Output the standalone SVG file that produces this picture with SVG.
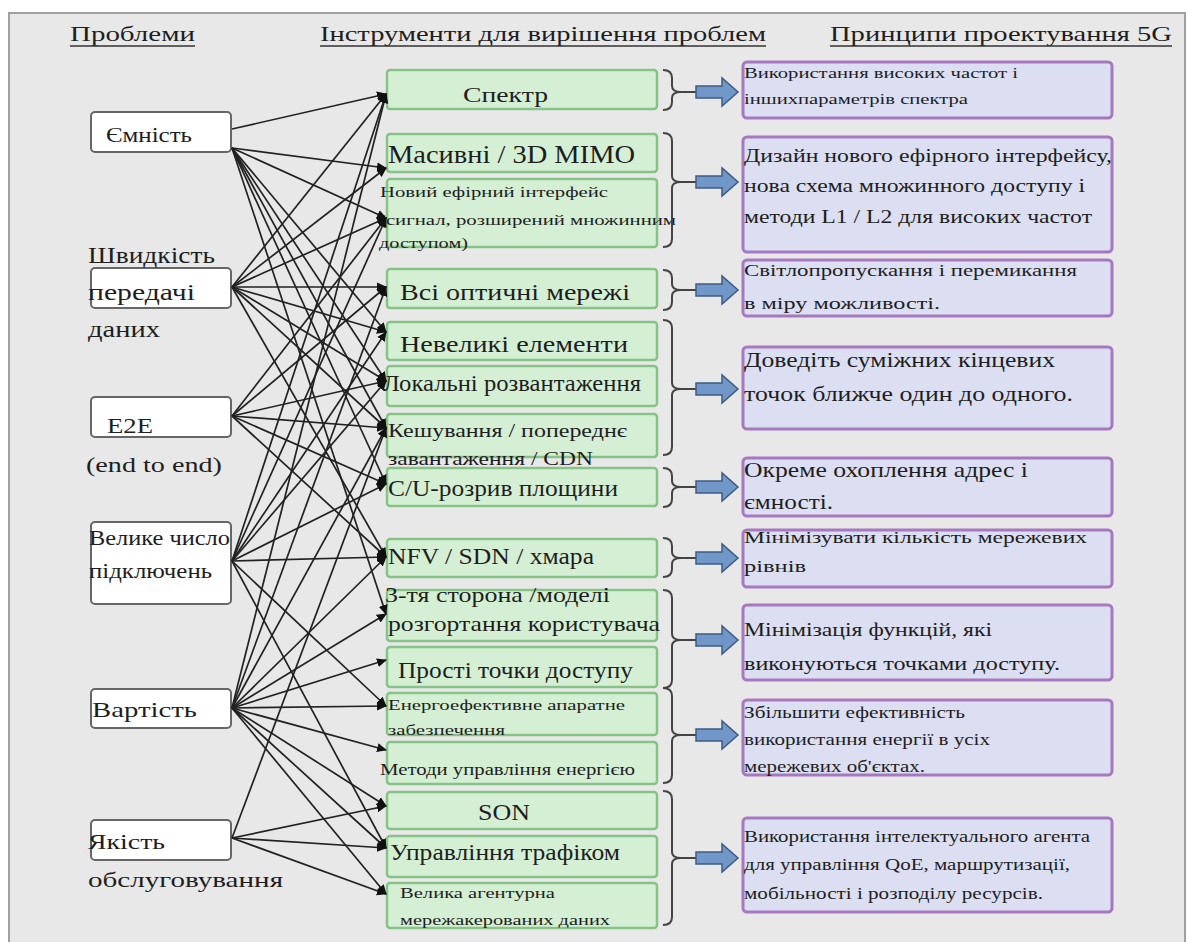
<svg xmlns="http://www.w3.org/2000/svg" width="1189" height="942" viewBox="0 0 1189 942">
<defs>
<style>
text{font-family:"Liberation Serif","Times New Roman",serif;fill:#1e1e1e}
.hd{font-size:22px}
.ul{stroke:#333;stroke-width:1.5}
.lb{fill:#fff;stroke:#666;stroke-width:2}
.gb{fill:#d5efd5;stroke:#86c386;stroke-width:2.5}
.pb{fill:#dcdff2;stroke:#a678c0;stroke-width:3}
.br{fill:none;stroke:#444;stroke-width:2}
.ba{fill:#7097c8;stroke:#3e5b84;stroke-width:1.5}
.cn line{stroke:#222;stroke-width:1.7;marker-end:url(#ah)}
</style>
<marker id="ah" markerUnits="userSpaceOnUse" markerWidth="10" markerHeight="10" refX="9" refY="5" orient="auto">
<path d="M0,0.5 L10,5 L0,9.5 z" fill="#111"/>
</marker>
</defs>
<rect x="0" y="0" width="1189" height="942" fill="#fff"/>
<rect x="9" y="13" width="1176" height="932" fill="#e8e8e8" stroke="#a0a0a0" stroke-width="2"/>

<g id="headers">
<text class="hd" x="70" y="41" textLength="125" lengthAdjust="spacingAndGlyphs">Проблеми</text>
<line class="ul" x1="70" y1="46" x2="195" y2="46"/>
<text class="hd" x="320" y="41" textLength="446" lengthAdjust="spacingAndGlyphs">Інструменти для вирішення проблем</text>
<line class="ul" x1="320" y1="46" x2="766" y2="46"/>
<text class="hd" x="830" y="41" textLength="342" lengthAdjust="spacingAndGlyphs">Принципи проектування 5G</text>
<line class="ul" x1="830" y1="46" x2="1172" y2="46"/>
</g>

<g id="p-capacity"><rect class="lb" x="91" y="112" width="140" height="40" rx="4"/><text x="106" y="142" font-size="20" textLength="86" lengthAdjust="spacingAndGlyphs">Ємність</text></g>
<g id="p-rate"><rect class="lb" x="91" y="268" width="140" height="40" rx="4"/>
<text x="88" y="263" font-size="24" textLength="127" lengthAdjust="spacingAndGlyphs">Швидкість</text>
<text x="88" y="300" font-size="24" textLength="107" lengthAdjust="spacingAndGlyphs">передачі</text>
<text x="88" y="337" font-size="24" textLength="72" lengthAdjust="spacingAndGlyphs">даних</text></g>
<g id="p-e2e"><rect class="lb" x="91" y="397" width="140" height="40" rx="4"/>
<text x="107" y="433" font-size="22" textLength="46" lengthAdjust="spacingAndGlyphs">E2E</text>
<text x="86" y="472" font-size="22" textLength="136" lengthAdjust="spacingAndGlyphs">(end to end)</text></g>
<g id="p-massive"><rect class="lb" x="91" y="522" width="140" height="82" rx="4"/>
<text x="89" y="545" font-size="20" textLength="141" lengthAdjust="spacingAndGlyphs">Велике число</text>
<text x="89" y="578" font-size="20" textLength="123" lengthAdjust="spacingAndGlyphs">підключень</text></g>
<g id="p-cost"><rect class="lb" x="91" y="689" width="140" height="39" rx="4"/>
<text x="92" y="717" font-size="22" textLength="105" lengthAdjust="spacingAndGlyphs">Вартість</text></g>
<g id="p-qoe"><rect class="lb" x="91" y="820" width="140" height="40" rx="4"/>
<text x="88" y="849" font-size="22" textLength="77" lengthAdjust="spacingAndGlyphs">Якість</text>
<text x="88" y="887" font-size="22" textLength="195" lengthAdjust="spacingAndGlyphs">обслуговування</text></g>

<g id="t-spectrum"><rect class="gb" x="387" y="70" width="270" height="39" rx="3"/><text x="463" y="102" font-size="22" textLength="85" lengthAdjust="spacingAndGlyphs">Спектр</text></g>
<g id="t-mimo"><rect class="gb" x="387" y="134" width="270" height="38" rx="3"/><text x="388" y="163" font-size="26" textLength="247" lengthAdjust="spacingAndGlyphs">Масивні / 3D MIMO</text></g>
<g id="t-air"><rect class="gb" x="387" y="179" width="270" height="68" rx="3"/>
<text x="380" y="197" font-size="14" textLength="228" lengthAdjust="spacingAndGlyphs">Новий ефірний інтерфейс</text>
<text x="379" y="225" font-size="15" textLength="297" lengthAdjust="spacingAndGlyphs">(сигнал, розширений множинним</text>
<text x="379" y="248" font-size="14" textLength="89" lengthAdjust="spacingAndGlyphs">доступом)</text></g>
<g id="t-optical"><rect class="gb" x="387" y="269" width="270" height="39" rx="3"/><text x="400" y="300" font-size="24" textLength="230" lengthAdjust="spacingAndGlyphs">Всі оптичні мережі</text></g>
<g id="t-small"><rect class="gb" x="387" y="322" width="270" height="38" rx="3"/><text x="400" y="352" font-size="24" textLength="228" lengthAdjust="spacingAndGlyphs">Невеликі елементи</text></g>
<g id="t-offload"><rect class="gb" x="387" y="366" width="270" height="40" rx="3"/><text x="383" y="391" font-size="24" textLength="258" lengthAdjust="spacingAndGlyphs">Локальні розвантаження</text></g>
<g id="t-cache"><rect class="gb" x="387" y="414" width="270" height="43" rx="3"/>
<text x="388" y="437" font-size="19" textLength="239" lengthAdjust="spacingAndGlyphs">Кешування / попереднє</text>
<text x="388" y="465" font-size="19" textLength="205" lengthAdjust="spacingAndGlyphs">завантаження / CDN</text></g>
<g id="t-cu"><rect class="gb" x="387" y="468" width="270" height="38" rx="3"/><text x="388" y="496" font-size="24" textLength="230" lengthAdjust="spacingAndGlyphs">C/U-розрив площини</text></g>
<g id="t-nfv"><rect class="gb" x="387" y="539" width="270" height="38" rx="3"/><text x="388" y="564" font-size="24" textLength="206" lengthAdjust="spacingAndGlyphs">NFV / SDN / хмара</text></g>
<g id="t-3rd"><rect class="gb" x="387" y="590" width="270" height="51" rx="3"/>
<text x="385" y="602" font-size="22" textLength="225" lengthAdjust="spacingAndGlyphs">3-тя сторона /моделі</text>
<text x="388" y="631" font-size="22" textLength="272" lengthAdjust="spacingAndGlyphs">розгортання користувача</text></g>
<g id="t-simple"><rect class="gb" x="387" y="647" width="270" height="40" rx="3"/><text x="398" y="678" font-size="24" textLength="235" lengthAdjust="spacingAndGlyphs">Прості точки доступу</text></g>
<g id="t-eehw"><rect class="gb" x="387" y="693" width="270" height="42" rx="3"/>
<text x="388" y="710" font-size="15" textLength="237" lengthAdjust="spacingAndGlyphs">Енергоефективне апаратне</text>
<text x="388" y="735" font-size="15" textLength="117" lengthAdjust="spacingAndGlyphs">забезпечення</text></g>
<g id="t-energy"><rect class="gb" x="387" y="742" width="270" height="42" rx="3"/><text x="380" y="775" font-size="16" textLength="255" lengthAdjust="spacingAndGlyphs">Методи управління енергією</text></g>
<g id="t-son"><rect class="gb" x="387" y="792" width="270" height="37" rx="3"/><text x="478" y="820" font-size="24" textLength="52" lengthAdjust="spacingAndGlyphs">SON</text></g>
<g id="t-traffic"><rect class="gb" x="387" y="836" width="270" height="41" rx="3"/><text x="390" y="860" font-size="24" textLength="230" lengthAdjust="spacingAndGlyphs">Управління трафіком</text></g>
<g id="t-bigdata"><rect class="gb" x="387" y="883" width="270" height="45" rx="3"/>
<text x="400" y="898" font-size="15" textLength="155" lengthAdjust="spacingAndGlyphs">Велика агентурна</text>
<text x="400" y="925" font-size="15" textLength="210" lengthAdjust="spacingAndGlyphs">мережакерованих даних</text></g>

<g id="braces">
<path class="br" d="M663,70 Q672,70 672,78 L672,86 Q672,92 681,92 Q672,92 672,98 L672,102 Q672,110 663,110"/>
<path class="br" d="M663,133 Q672,133 672,141 L672,176 Q672,182 681,182 Q672,182 672,188 L672,239 Q672,247 663,247"/>
<path class="br" d="M663,270 Q672,270 672,278 L672,284 Q672,290 681,290 Q672,290 672,296 L672,302 Q672,310 663,310"/>
<path class="br" d="M663,320 Q672,320 672,328 L672,383 Q672,389 681,389 Q672,389 672,395 L672,447 Q672,455 663,455"/>
<path class="br" d="M663,468 Q672,468 672,476 L672,481 Q672,487 681,487 Q672,487 672,493 L672,499 Q672,507 663,507"/>
<path class="br" d="M663,538 Q672,538 672,546 L672,552 Q672,558 681,558 Q672,558 672,564 L672,569 Q672,577 663,577"/>
<path class="br" d="M663,590 Q672,590 672,598 L672,634 Q672,640 681,640 Q672,640 672,646 L672,680 Q672,688 663,688"/>
<path class="br" d="M663,688 Q672,688 672,696 L672,729 Q672,735 681,735 Q672,735 672,741 L672,775 Q672,783 663,783"/>
<path class="br" d="M663,791 Q672,791 672,799 L672,852 Q672,858 681,858 Q672,858 672,864 L672,917 Q672,925 663,925"/>
<g stroke="#444" stroke-width="2">
<line x1="681" y1="92" x2="696" y2="92"/><line x1="681" y1="182" x2="696" y2="182"/><line x1="681" y1="290" x2="696" y2="290"/>
<line x1="681" y1="389" x2="696" y2="389"/><line x1="681" y1="487" x2="696" y2="487"/><line x1="681" y1="558" x2="696" y2="558"/>
<line x1="681" y1="640" x2="696" y2="640"/><line x1="681" y1="735" x2="696" y2="735"/><line x1="681" y1="858" x2="696" y2="858"/>
</g>
</g>

<g id="block-arrows">
<path class="ba" d="M696,86 L722,86 L722,78 L738,92 L722,106 L722,98 L696,98 Z"/>
<path class="ba" d="M696,176 L722,176 L722,168 L738,182 L722,196 L722,188 L696,188 Z"/>
<path class="ba" d="M696,284 L722,284 L722,276 L738,290 L722,304 L722,296 L696,296 Z"/>
<path class="ba" d="M696,383 L722,383 L722,375 L738,389 L722,403 L722,395 L696,395 Z"/>
<path class="ba" d="M696,481 L722,481 L722,473 L738,487 L722,501 L722,493 L696,493 Z"/>
<path class="ba" d="M696,552 L722,552 L722,544 L738,558 L722,572 L722,564 L696,564 Z"/>
<path class="ba" d="M696,634 L722,634 L722,626 L738,640 L722,654 L722,646 L696,646 Z"/>
<path class="ba" d="M696,729 L722,729 L722,721 L738,735 L722,749 L722,741 L696,741 Z"/>
<path class="ba" d="M696,852 L722,852 L722,844 L738,858 L722,872 L722,864 L696,864 Z"/>
</g>

<g id="d-spectrum"><rect class="pb" x="743" y="62" width="369" height="56" rx="4"/>
<text x="744" y="78" font-size="15" textLength="274" lengthAdjust="spacingAndGlyphs">Використання високих частот і</text>
<text x="744" y="104" font-size="15" textLength="224" lengthAdjust="spacingAndGlyphs">іншихпараметрів спектра</text></g>
<g id="d-air"><rect class="pb" x="743" y="137" width="369" height="115" rx="4"/>
<text x="744" y="162" font-size="18" textLength="368" lengthAdjust="spacingAndGlyphs">Дизайн нового ефірного інтерфейсу,</text>
<text x="744" y="192" font-size="18" textLength="341" lengthAdjust="spacingAndGlyphs">нова схема множинного доступу і</text>
<text x="744" y="223" font-size="18" textLength="348" lengthAdjust="spacingAndGlyphs">методи L1 / L2 для високих частот</text></g>
<g id="d-optical"><rect class="pb" x="743" y="260" width="369" height="56" rx="4"/>
<text x="744" y="276" font-size="17" textLength="333" lengthAdjust="spacingAndGlyphs">Світлопропускання і перемикання</text>
<text x="744" y="309" font-size="17" textLength="196" lengthAdjust="spacingAndGlyphs">в міру можливості.</text></g>
<g id="d-closer"><rect class="pb" x="743" y="347" width="369" height="82" rx="4"/>
<text x="744" y="367" font-size="21" textLength="311" lengthAdjust="spacingAndGlyphs">Доведіть суміжних  кінцевих</text>
<text x="744" y="401" font-size="21" textLength="329" lengthAdjust="spacingAndGlyphs">точок ближче  один  до одного.</text></g>
<g id="d-address"><rect class="pb" x="743" y="458" width="369" height="58" rx="4"/>
<text x="744" y="477" font-size="21" textLength="284" lengthAdjust="spacingAndGlyphs">Окреме охоплення  адрес  і</text>
<text x="744" y="509" font-size="21" textLength="89" lengthAdjust="spacingAndGlyphs">ємності.</text></g>
<g id="d-layers"><rect class="pb" x="743" y="530" width="369" height="57" rx="4"/>
<text x="744" y="543" font-size="17" textLength="343" lengthAdjust="spacingAndGlyphs">Мінімізувати кількість мережевих</text>
<text x="744" y="572" font-size="17" textLength="62" lengthAdjust="spacingAndGlyphs">рівнів</text></g>
<g id="d-ap"><rect class="pb" x="743" y="605" width="369" height="75" rx="4"/>
<text x="744" y="636" font-size="18" textLength="248" lengthAdjust="spacingAndGlyphs">Мінімізація функцій, які</text>
<text x="744" y="670" font-size="18" textLength="316" lengthAdjust="spacingAndGlyphs">виконуються точками доступу.</text></g>
<g id="d-energy"><rect class="pb" x="743" y="700" width="369" height="75" rx="4"/>
<text x="744" y="718" font-size="16" textLength="221" lengthAdjust="spacingAndGlyphs">Збільшити ефективність</text>
<text x="744" y="745" font-size="16" textLength="246" lengthAdjust="spacingAndGlyphs">використання енергії в усіх</text>
<text x="744" y="772" font-size="16" textLength="181" lengthAdjust="spacingAndGlyphs">мережевих об'єктах.</text></g>
<g id="d-agent"><rect class="pb" x="743" y="818" width="369" height="94" rx="4"/>
<text x="744" y="842" font-size="16" textLength="346" lengthAdjust="spacingAndGlyphs">Використання інтелектуального агента</text>
<text x="744" y="870" font-size="16" textLength="326" lengthAdjust="spacingAndGlyphs">для управління QoE, маршрутизації,</text>
<text x="744" y="899" font-size="16" textLength="299" lengthAdjust="spacingAndGlyphs">мобільності і розподілу ресурсів.</text></g>

<g id="connectors" class="cn">
<line x1="232" y1="129" x2="386" y2="94"/>
<line x1="232" y1="148" x2="386" y2="168"/>
<line x1="232" y1="148" x2="386" y2="218"/>
<line x1="232" y1="148" x2="386" y2="332"/>
<line x1="232" y1="148" x2="386" y2="381"/>
<line x1="232" y1="148" x2="386" y2="428"/>
<line x1="232" y1="148" x2="386" y2="484"/>
<line x1="232" y1="148" x2="386" y2="614"/>
<line x1="232" y1="287" x2="386" y2="94"/>
<line x1="232" y1="287" x2="386" y2="168"/>
<line x1="232" y1="287" x2="386" y2="218"/>
<line x1="232" y1="287" x2="386" y2="287"/>
<line x1="232" y1="287" x2="386" y2="332"/>
<line x1="232" y1="287" x2="386" y2="381"/>
<line x1="232" y1="287" x2="386" y2="428"/>
<line x1="232" y1="287" x2="386" y2="557"/>
<line x1="232" y1="416" x2="386" y2="218"/>
<line x1="232" y1="416" x2="386" y2="287"/>
<line x1="232" y1="416" x2="386" y2="381"/>
<line x1="232" y1="416" x2="386" y2="428"/>
<line x1="232" y1="416" x2="386" y2="484"/>
<line x1="232" y1="416" x2="386" y2="557"/>
<line x1="232" y1="561" x2="386" y2="94"/>
<line x1="232" y1="561" x2="386" y2="218"/>
<line x1="232" y1="561" x2="386" y2="332"/>
<line x1="232" y1="561" x2="386" y2="381"/>
<line x1="232" y1="561" x2="386" y2="484"/>
<line x1="232" y1="561" x2="386" y2="557"/>
<line x1="232" y1="561" x2="386" y2="706"/>
<line x1="232" y1="561" x2="386" y2="848"/>
<line x1="232" y1="708" x2="386" y2="94"/>
<line x1="232" y1="708" x2="386" y2="287"/>
<line x1="232" y1="708" x2="386" y2="428"/>
<line x1="232" y1="708" x2="386" y2="557"/>
<line x1="232" y1="708" x2="386" y2="614"/>
<line x1="232" y1="708" x2="386" y2="660"/>
<line x1="232" y1="708" x2="386" y2="706"/>
<line x1="232" y1="708" x2="386" y2="750"/>
<line x1="232" y1="708" x2="386" y2="806"/>
<line x1="232" y1="708" x2="386" y2="848"/>
<line x1="232" y1="708" x2="386" y2="894"/>
<line x1="232" y1="838" x2="386" y2="428"/>
<line x1="232" y1="838" x2="386" y2="806"/>
<line x1="232" y1="838" x2="386" y2="848"/>
<line x1="232" y1="838" x2="386" y2="894"/>
</g>
</svg>
